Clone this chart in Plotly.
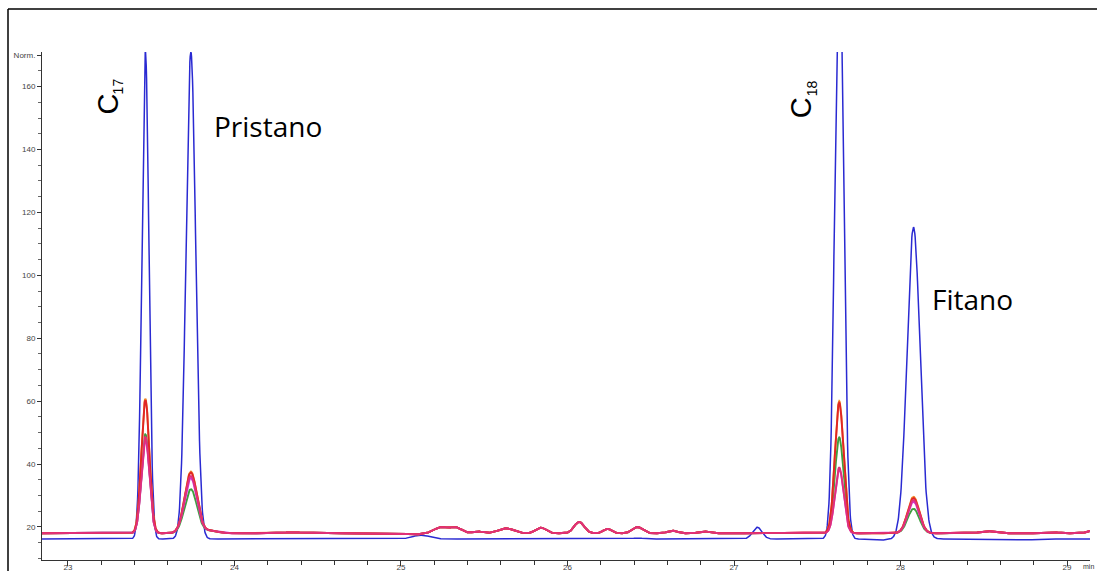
import numpy as np
import plotly.graph_objects as go

# ---- axis windows -------------------------------------------------------
time_range = [22.844, 29.138]      # retention time, min
resp_range = [9.5, 171.0]          # normalised detector response
x_ticks = [23, 24, 25, 26, 27, 28, 29]
y_ticks = [20, 40, 60, 80, 100, 120, 140, 160, 170]
y_tick_text = ["20", "40", "60", "80", "100", "120", "140", "160", "Norm."]

# ---- named peaks --------------------------------------------------------
peak_names = ["C17", "Pristano", "C18", "Fitano"]
peak_rt = [23.465, 23.738, 27.632, 28.078]

# blue trace: baseline, apex of each named peak, peak widths (min)
blue_baseline = 16.2
blue_apex = [171.0, 171.0, 208.0, 115.3]
blue_sigma = [0.021, 0.029, 0.026, 0.039]
blue_minor_rt = [25.12, 26.42, 27.14, 27.86, 28.75]
blue_minor_apex = [17.4, 16.5, 19.9, 15.8, 15.9]
blue_minor_sigma = [0.05, 0.03, 0.028, 0.06, 0.05]

# sample traces: common baseline and small features
sample_baseline = 18.0
sample_sigma = [0.024, 0.037, 0.026, 0.035]
minor_rt = [23.86, 24.35, 25.08, 25.24, 25.33, 25.46, 25.63, 25.84, 26.07,
            26.24, 26.42, 26.63, 26.82, 27.30, 28.52, 28.90, 29.20]
minor_apex = [18.8, 18.3, 17.6, 19.9, 19.8, 18.6, 19.6, 19.8, 21.6,
              19.4, 20.0, 18.8, 18.6, 18.2, 18.7, 18.4, 19.5]
minor_sigma = [0.04, 0.06, 0.04, 0.04, 0.035, 0.03, 0.045, 0.03, 0.03,
               0.025, 0.03, 0.03, 0.03, 0.05, 0.04, 0.04, 0.05]

# apex of C17, Pristano, C18, Fitano for each sample trace
orange_apex = [60.8, 37.6, 60.0, 29.6]
red_apex = [60.3, 37.3, 59.5, 29.2]
green_apex = [49.5, 32.0, 48.5, 25.8]
magenta_apex = [48.0, 35.5, 38.5, 28.0]
crimson_apex = [48.6, 36.2, 38.9, 28.6]

t = np.arange(time_range[0], time_range[1] + 0.02, 0.002)


def signal(base, rts, apexes, sigmas):
    y = np.full_like(t, base)
    for rt, ap, s in zip(rts, apexes, sigmas):
        y += (ap - base) * np.exp(-0.5 * ((t - rt) / s) ** 2)
    return y


def sample(apex):
    return signal(sample_baseline,
                  list(peak_rt) + minor_rt,
                  list(apex) + minor_apex,
                  list(sample_sigma) + minor_sigma)


blue = signal(blue_baseline,
              list(peak_rt) + blue_minor_rt,
              list(blue_apex) + blue_minor_apex,
              list(blue_sigma) + blue_minor_sigma)

fig = go.Figure()
fig.add_trace(go.Scatter(x=t, y=blue, mode="lines", name="blue",
                         line=dict(color="#2a2ad2", width=1.5)))
for name, apex, color in [("green", green_apex, "#3f9f3f"),
                          ("magenta", magenta_apex, "#d236d2"),
                          ("orange", orange_apex, "#f08a2a"),
                          ("red", red_apex, "#e02626"),
                          ("crimson", crimson_apex, "#e0307a")]:
    fig.add_trace(go.Scatter(x=t, y=sample(apex), mode="lines", name=name,
                             line=dict(color=color, width=1.9)))

# ---- page geometry ------------------------------------------------------
W, H = 1097, 571
ML, MR, MT, MB = 42, 7, 52, 11
pw, ph = W - ML - MR, H - MT - MB


def px(xp):
    return (xp - ML) / pw


def py(yp):
    return (H - MB - yp) / ph


# outer frame (top and left edges)
frame = dict(color="black", width=1.5)
shapes = [
    dict(type="line", xref="paper", yref="paper", x0=px(8), x1=px(W + 5),
         y0=py(9), y1=py(9), line=frame),
    dict(type="line", xref="paper", yref="paper", x0=px(8), x1=px(8),
         y0=py(9), y1=py(H + 5), line=frame),
]

label_font = dict(family="Liberation Sans, Arial", size=29, color="black")
sub_font = dict(family="Liberation Sans, Arial", size=14, color="black")
name_font = dict(family="Open Sans", size=28, color="black")

annotations = [
    # C17
    dict(x=peak_rt[0], y=resp_range[1], xref="x", yref="y", text="C",
         textangle=-90, showarrow=False, font=label_font,
         xshift=-37, yshift=-52),
    dict(x=peak_rt[0], y=resp_range[1], xref="x", yref="y", text="17",
         textangle=-90, showarrow=False, font=sub_font,
         xshift=-27, yshift=-34),
    # C18
    dict(x=peak_rt[2], y=resp_range[1], xref="x", yref="y", text="C",
         textangle=-90, showarrow=False, font=label_font,
         xshift=-38, yshift=-56),
    dict(x=peak_rt[2], y=resp_range[1], xref="x", yref="y", text="18",
         textangle=-90, showarrow=False, font=sub_font,
         xshift=-27, yshift=-36),
    # Pristano
    dict(x=peak_rt[1], y=resp_range[1], xref="x", yref="y", text="Pristano",
         showarrow=False, font=name_font, xanchor="left", yanchor="middle",
         xshift=21, yshift=-74),
    # Fitano
    dict(x=peak_rt[3], y=blue_apex[3], xref="x", yref="y", text="Fitano",
         showarrow=False, font=name_font, xanchor="left", yanchor="middle",
         xshift=16, yshift=-72),
    # time unit at end of axis
    dict(x=px(W - 1), y=py(H - MB + 1), xref="paper", yref="paper",
         text="min", showarrow=False, xanchor="right", yanchor="top",
         font=dict(family="Liberation Sans, Arial", size=7, color="#333")),
]

tick_font = dict(family="Liberation Sans, Arial", size=8, color="#444")

fig.update_layout(
    width=W, height=H,
    margin=dict(l=ML, r=MR, t=MT, b=MB),
    paper_bgcolor="white", plot_bgcolor="white",
    showlegend=False,
    shapes=shapes,
    annotations=annotations,
    xaxis=dict(range=time_range, tickvals=x_ticks, showgrid=False,
               zeroline=False, showline=True, linecolor="#333", linewidth=1,
               ticks="outside", ticklen=5, tickcolor="#333", tickwidth=1,
               tickfont=tick_font, ticklabelstandoff=-6, automargin=False,
               minor=dict(dtick=0.2, tick0=23, ticks="outside", ticklen=4,
                          tickcolor="#333", showgrid=False)),
    yaxis=dict(range=resp_range, tickvals=y_ticks, ticktext=y_tick_text,
               showgrid=False, zeroline=False, showline=True,
               linecolor="#333", linewidth=1, ticks="outside", ticklen=4,
               tickcolor="#333", tickwidth=1, tickfont=tick_font,
               automargin=False,
               minor=dict(dtick=5, tick0=0, ticks="outside", ticklen=3,
                          tickcolor="#666", showgrid=False)),
)

fig.write_html("out.html")
